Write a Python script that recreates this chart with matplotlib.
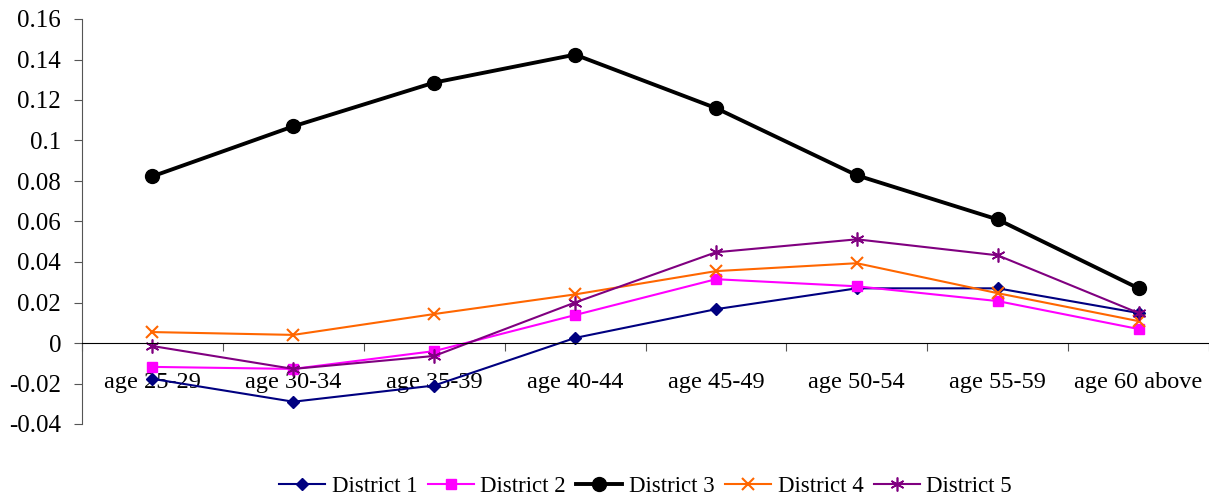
import numpy as np
import matplotlib.pyplot as plt

plt.rcParams['font.family'] = ['Liberation Serif', 'DejaVu Serif']

categories = ['age 25-29', 'age 30-34', 'age 35-39', 'age 40-44',
              'age 45-49', 'age 50-54', 'age 55-59', 'age 60 above']
district1 = [-0.0177, -0.029, -0.021, 0.0025, 0.0167, 0.027, 0.027, 0.0148]
district2 = [-0.0118, -0.0128, -0.004, 0.0138, 0.0315, 0.028, 0.0207, 0.0069]
district3 = [0.0823, 0.107, 0.1286, 0.1424, 0.116, 0.0828, 0.061, 0.027]
district4 = [0.0054, 0.004, 0.0143, 0.024, 0.0355, 0.0394, 0.0246, 0.0108]
district5 = [-0.0015, -0.0128, -0.0064, 0.020, 0.0448, 0.0512, 0.0433, 0.0148]

fig = plt.figure(figsize=(12.09, 5), dpi=100)
ax = fig.add_axes([82/1209, 1-424/500, 1-82/1209, (424-19)/500])

x = np.arange(len(categories))
ax.plot(x, district1, color='#000080', marker='D', ms=6, lw=1.5, label='District 1')
ax.plot(x, district2, color='#FF00FF', marker='s', ms=7, lw=1.5, label='District 2')
ax.plot(x, district3, color='black', marker='o', ms=10, lw=2.8, label='District 3')
ax.plot(x, district4, color='#FF6600', marker='x', ms=9, mew=1.5, lw=1.5, label='District 4')
ax.plot(x, district5, color='#800080', marker=(6, 2, 0), ms=10, mew=1.2, lw=1.5, label='District 5')

ax.set_xlim(-0.5, len(categories) - 0.5)
ax.set_ylim(-0.04, 0.16)
ax.set_yticks(np.arange(-0.04, 0.161, 0.02))
ax.set_yticklabels(['-0.04', '-0.02', '0', '0.02', '0.04', '0.06', '0.08', '0.1',
                    '0.12', '0.14', '0.16'])

ax.spines['top'].set_visible(False)
ax.spines['right'].set_visible(False)
ax.spines['bottom'].set_position(('data', 0))
ax.spines['left'].set_color('#555555')

ax.set_xticks(np.arange(-0.5, len(categories), 1.0))
ax.set_xticks(x, minor=True)
ax.set_xticklabels([])
ax.set_xticklabels(categories, minor=True)
ax.tick_params(axis='x', which='major', length=6, direction='out', color='#555555')
ax.tick_params(axis='x', which='minor', length=0, labelsize=17.5, pad=21)
ax.tick_params(axis='y', length=6, direction='out', labelsize=18, pad=9, color='#555555')

fig.legend(loc='lower center', ncol=5, frameon=False, fontsize=16.5,
           bbox_to_anchor=(0.534, -0.035), handlelength=2.0, columnspacing=0.45,
           handletextpad=0.3)

fig.savefig('out.png', dpi=100)
